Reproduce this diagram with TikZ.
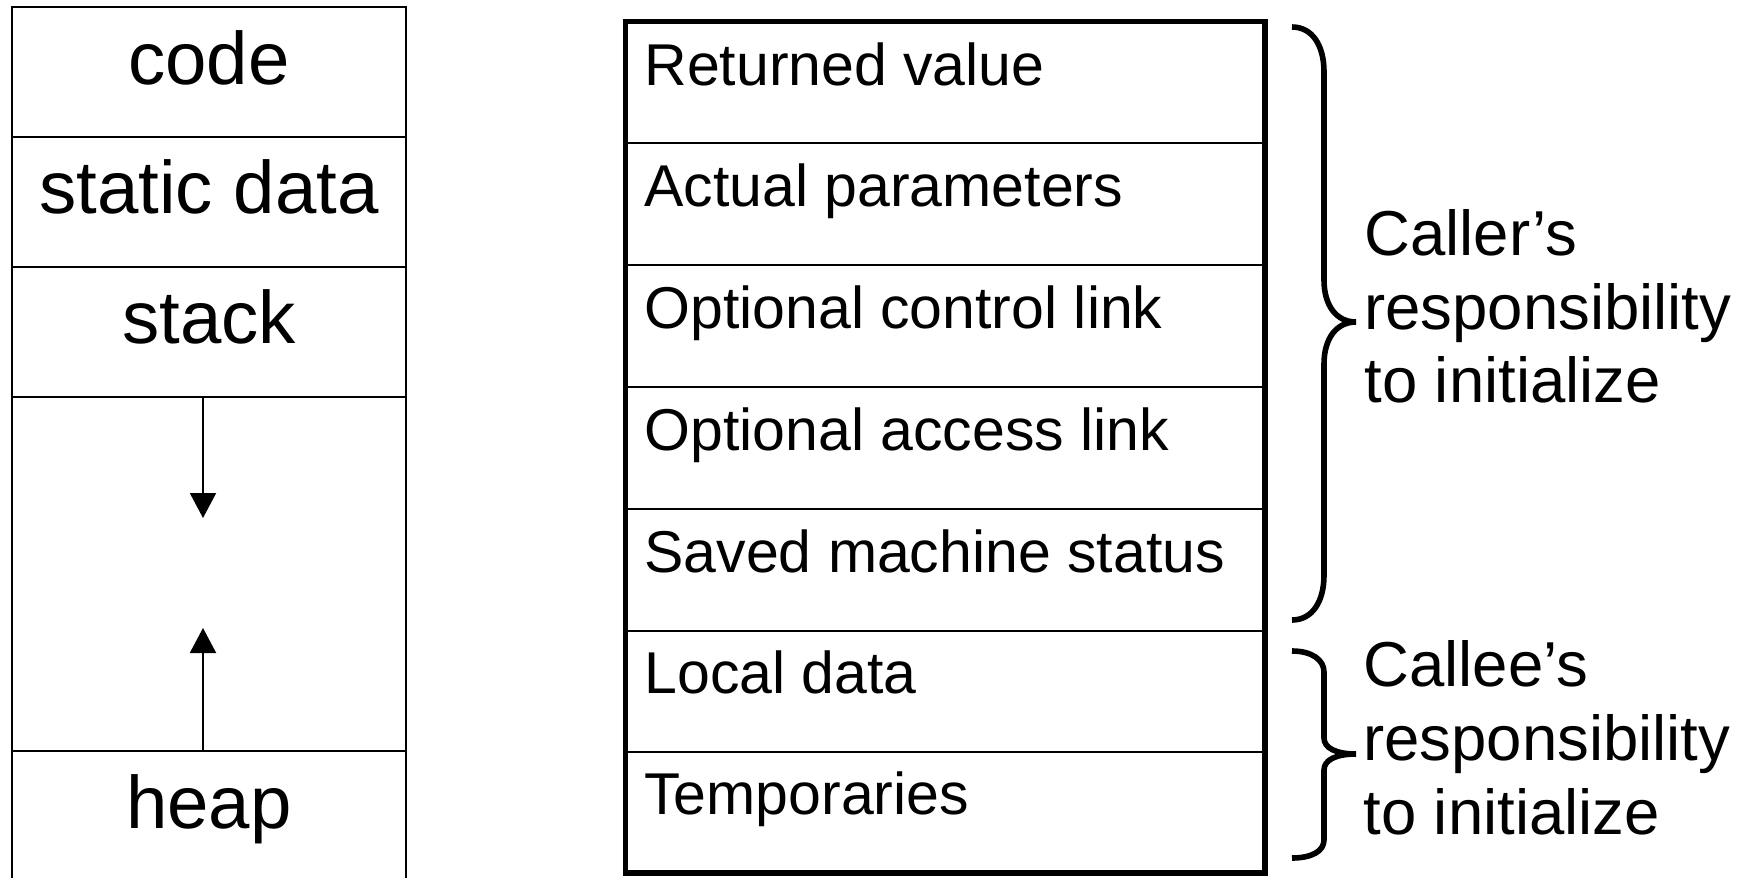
\documentclass[tikz,border=0pt]{standalone}
\usepackage{fontspec}
\setmainfont{Liberation Sans}
\usetikzlibrary{arrows.meta}

\begin{document}
\begin{tikzpicture}[
  x=0.5pt, y=-0.5pt,
  memline/.style={line width=1.4pt, line cap=rect},
  framebox/.style={line width=2.6pt, line join=miter},
  rowline/.style={line width=1.25pt},
  bracepath/.style={line width=2.8pt, line cap=butt},
  growarrow/.style={line width=1pt, -{Triangle[length=12.5pt, width=13pt]}},
  segtext/.style={font=\fontsize{37.2pt}{40pt}\selectfont, anchor=base, inner sep=0pt},
  rowtext/.style={font=\fontsize{29.5pt}{33pt}\selectfont, anchor=base west, inner sep=0pt},
  notetext/.style={font=\fontsize{31.75pt}{37pt}\selectfont, anchor=base west, inner sep=0pt}
]
\useasboundingbox (0,0) rectangle (1751,878);

% ---- memory layout (open at the bottom) ----
\draw[memline] (12,878) -- (12,7) -- (406,7) -- (406,878);
\foreach \yy in {137,267,397,751}
  \draw[memline] (12,\yy) -- (406,\yy);

\node[segtext] (code)   at (209,84)  {code};
\node[segtext] (static) at (209,213) {static data};
\node[segtext] (stack)  at (209,343) {stack};
\node[segtext] (heap)   at (209,828) {heap};

% growth directions of stack and heap
\coordinate (stackfloor) at (203,397);
\coordinate (stackgrow)  at (203,518);
\coordinate (heapceil)   at (203,751);
\coordinate (heapgrow)   at (203,628);
\draw[growarrow] (stackfloor) -- (stackgrow);
\draw[growarrow] (heapceil) -- (heapgrow);

% ---- activation record ----
\draw[framebox] (625.5,21.5) rectangle (1265,873);
\foreach \yy in {143,265,387,509,631,752}
  \draw[rowline] (625.5,\yy) -- (1265,\yy);

\node[rowtext] (retval) at (644,85)  {Returned value};
\node[rowtext] (params) at (644,206) {Actual parameters};
\node[rowtext] (ctrl)   at (644,328) {Optional control link};
\node[rowtext] (access) at (644,450) {Optional access link};
\node[rowtext] (saved)  at (644,572) {Saved machine status};
\node[rowtext] (local)  at (644,693) {Local data};
\node[rowtext] (temps)  at (644,814) {Temporaries};

% ---- braces ----
\draw[bracepath] (1292,27) .. controls (1312,27) and (1324,45) .. (1324,72)
  -- (1324,280) .. controls (1324,305) and (1336,322) .. (1356,322)
  .. controls (1336,322) and (1324,339) .. (1324,364)
  -- (1324,575) .. controls (1324,602) and (1312,620) .. (1292,620);

\draw[bracepath] (1292,651) .. controls (1312,651) and (1324,660) .. (1324,672)
  -- (1324,738) .. controls (1324,748) and (1336,754) .. (1356,754)
  .. controls (1336,754) and (1324,760) .. (1324,770)
  -- (1324,840) .. controls (1324,851) and (1312,858) .. (1292,858);

% ---- brace labels ----
\node[notetext] (callerA) at (1364,255) {Caller’s};
\node[notetext] (callerB) at (1364,329) {responsibility};
\node[notetext] (callerC) at (1364,402) {to initialize};

\node[notetext] (calleeA) at (1363,686) {Callee’s};
\node[notetext] (calleeB) at (1363,760) {responsibility};
\node[notetext] (calleeC) at (1363,834) {to initialize};
\end{tikzpicture}
\end{document}
